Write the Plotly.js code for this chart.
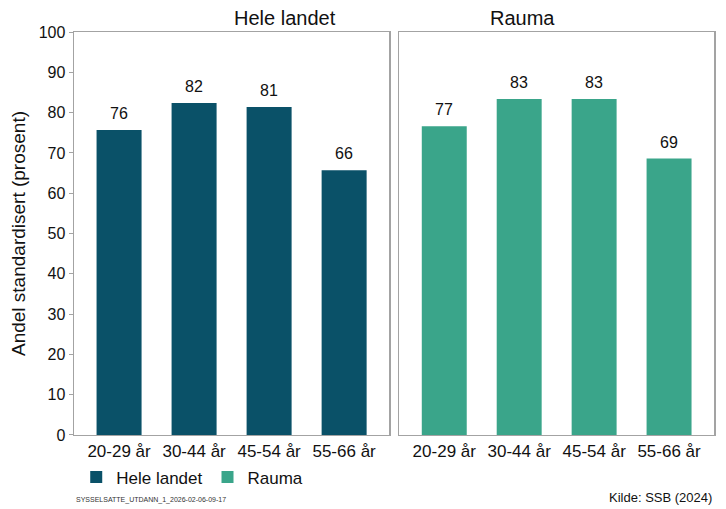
<!DOCTYPE html>
<html>
<head>
<meta charset="utf-8">
<script src="https://cdn.plot.ly/plotly-3.0.1.min.js"></script>
<style>
  html, body { margin: 0; padding: 0; background: #fff; }
  #chart { width: 726px; height: 509px; }
</style>
</head>
<body>
<div id="chart"></div>
<script>
const ageGroups = ["20-29 år", "30-44 år", "45-54 år", "55-66 år"];
const heleLandet = [75.7, 82.4, 81.4, 65.7];
const rauma = [76.6, 83.4, 83.4, 68.6];
const yTicks = [0, 10, 20, 30, 40, 50, 60, 70, 80, 90, 100];

const darkBlue = "#0a5168";
const teal = "#3aa58a";
const frame = "#a3a3a3";
const font = "Liberation Sans, Arial, sans-serif";

const data = [
    {
        type: "bar",
        name: "Hele landet",
        x: ageGroups,
        y: heleLandet,
        width: 0.6,
        marker: {color: darkBlue},
        xaxis: "x",
        yaxis: "y"
    },
    {
        type: "bar",
        name: "Rauma",
        x: ageGroups,
        y: rauma,
        width: 0.6,
        marker: {color: teal},
        xaxis: "x2",
        yaxis: "y2"
    }
];

// value labels above the bars, placed on the data axes
function valueLabels(values, xref, yref) {
    return values.map((v, i) => ({
        text: String(Math.round(v)),
        x: ageGroups[i],
        y: v,
        xref: xref,
        yref: yref,
        yanchor: "bottom",
        yshift: 6,
        showarrow: false,
        font: {size: 16, color: "#111"}
    }));
}

const xCommon = {
    type: "category",
    range: [-0.6, 3.6],
    showline: true,
    mirror: true,
    linecolor: frame,
    linewidth: 1.5,
    showgrid: false,
    zeroline: false,
    ticks: "",
    tickfont: {size: 17, color: "#111", family: font},
    fixedrange: true
};

const yCommon = {
    range: [0, 100],
    tickvals: yTicks,
    showline: true,
    mirror: true,
    linecolor: frame,
    linewidth: 1.5,
    showgrid: false,
    zeroline: false,
    fixedrange: true
};

const layout = {
    width: 726,
    height: 509,
    margin: {l: 0, r: 0, t: 0, b: 0},
    paper_bgcolor: "#fff",
    plot_bgcolor: "#fff",
    font: {family: font, color: "#111"},
    showlegend: true,
    legend: {
        orientation: "h",
        x: 0.105,
        y: 0.062,
        xanchor: "left",
        yanchor: "middle",
        font: {size: 17, color: "#111"},
        itemwidth: 30
    },
    xaxis: Object.assign({}, xCommon, {domain: [0.102, 0.536], anchor: "y"}),
    xaxis2: Object.assign({}, xCommon, {domain: [0.55, 0.9835], anchor: "y2"}),
    yaxis: Object.assign({}, yCommon, {
        domain: [0.1454, 0.937],
        anchor: "x",
        ticks: "outside",
        ticklen: 4,
        tickcolor: frame,
        tickfont: {size: 16, color: "#111"},
        title: {text: "Andel standardisert (prosent)", font: {size: 19, color: "#111"}, standoff: 8}
    }),
    yaxis2: Object.assign({}, yCommon, {
        domain: [0.1454, 0.937],
        anchor: "x2",
        showticklabels: false,
        ticks: ""
    }),
    annotations: [
        {text: "Hele landet", xref: "paper", yref: "paper", x: 0.319, y: 0.937, yanchor: "bottom", yshift: 1, showarrow: false, font: {size: 20, color: "#111"}},
        {text: "Rauma", xref: "paper", yref: "paper", x: 0.767, y: 0.937, yanchor: "bottom", yshift: 1, showarrow: false, font: {size: 20, color: "#111"}},
        {text: "SYSSELSATTE_UTDANN_1_2026-02-06-09-17", xref: "paper", yref: "paper", x: 0.102, y: 0.005, xanchor: "left", yanchor: "bottom", showarrow: false, font: {size: 7, color: "#333"}},
        {text: "Kilde: SSB (2024)", xref: "paper", yref: "paper", x: 0.983, y: 0.003, xanchor: "right", yanchor: "bottom", showarrow: false, font: {size: 13, color: "#111"}}
    ].concat(valueLabels(heleLandet, "x", "y"), valueLabels(rauma, "x2", "y2"))
};

Plotly.newPlot("chart", data, layout, {displayModeBar: false, staticPlot: true});
</script>
</body>
</html>
